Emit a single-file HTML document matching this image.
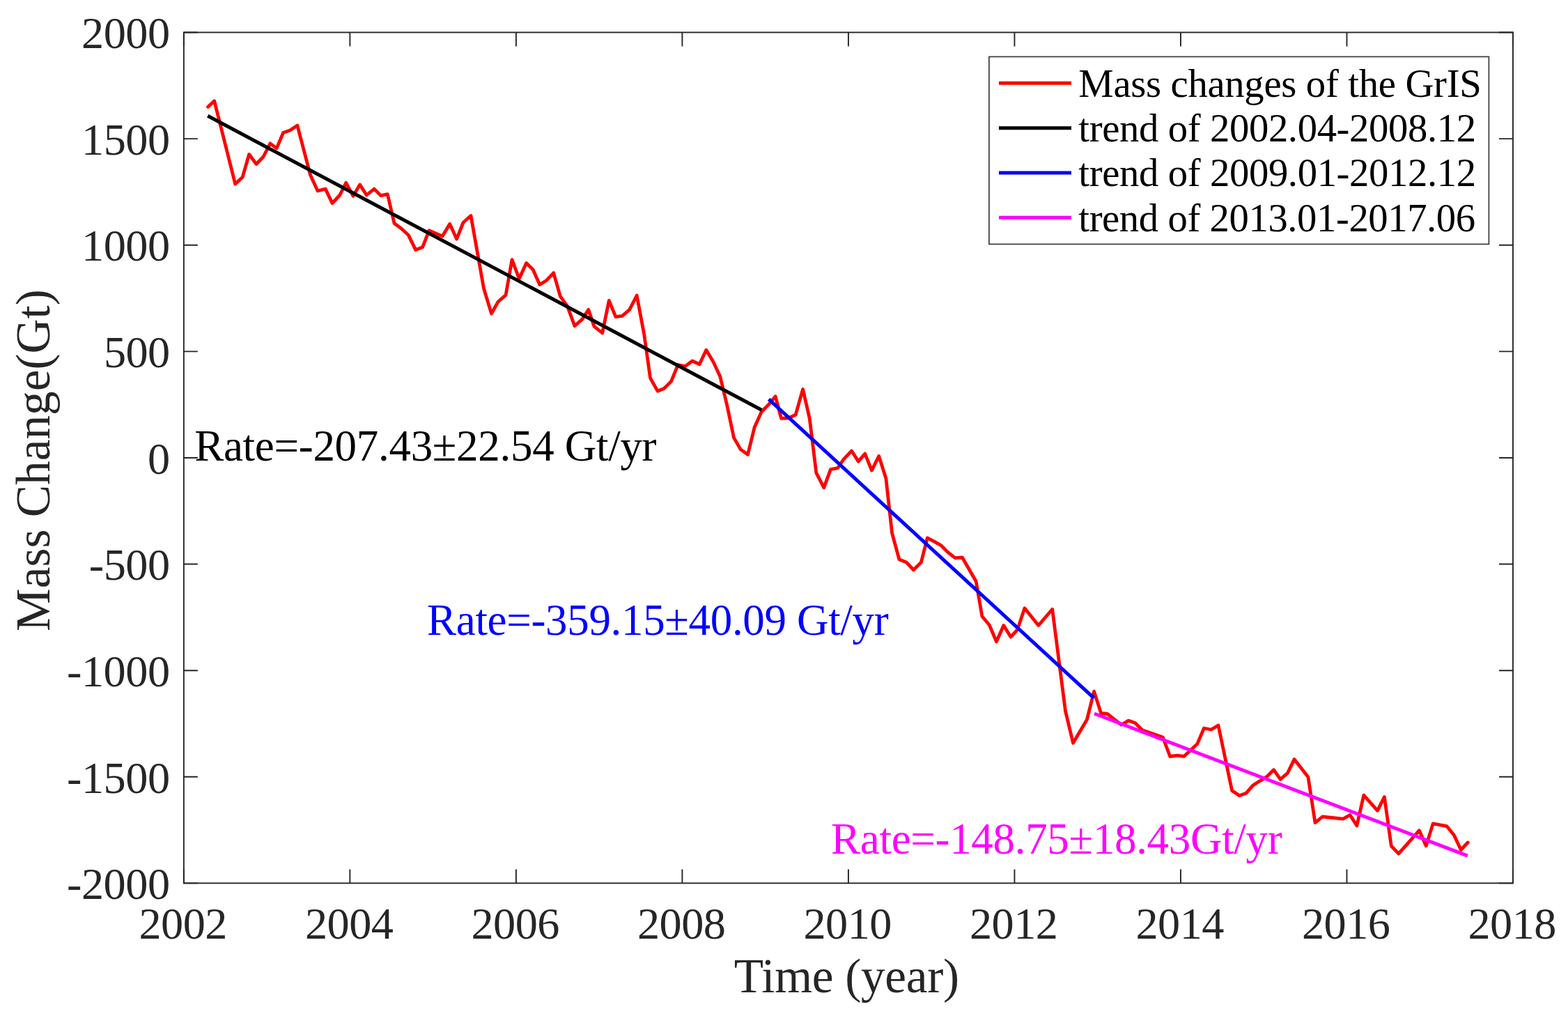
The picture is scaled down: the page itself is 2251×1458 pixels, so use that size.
<!DOCTYPE html><html><head><meta charset="utf-8"><title>Mass Change</title><style>html,body{margin:0;padding:0;background:#fff;}svg{display:block;}</style></head><body>
<svg width="2251" height="1458" viewBox="0 0 2251 1458" font-family="'Liberation Serif','Times New Roman',serif">
<rect x="0" y="0" width="2251" height="1458" fill="#fff"/>
<polyline points="298.5,153.4 307.7,144.8 337.7,264.1 348.2,254.2 357.6,221.5 368.0,235.5 378.0,225.0 387.9,205.8 397.2,212.8 406.5,190.6 416.4,187.1 426.9,180.1 445.6,251.3 456.1,274.0 467.2,271.1 477.0,291.6 487.8,280.0 496.7,262.2 507.0,281.4 516.6,264.9 526.2,280.0 537.2,271.1 546.8,280.7 556.4,278.7 566.0,320.5 577.0,328.7 586.4,337.6 596.7,358.6 606.6,354.8 615.9,330.8 625.7,334.9 635.1,339.0 645.7,321.2 655.6,343.1 664.9,319.5 676.0,309.5 694.5,414.0 705.5,450.1 715.1,433.0 726.1,423.4 735.0,372.6 745.3,400.0 755.6,377.4 765.2,387.0 774.8,408.5 784.4,402.5 794.7,391.6 804.3,425.2 814.6,439.6 824.9,467.7 835.8,458.1 844.8,444.4 853.0,468.4 864.7,478.0 874.3,431.3 883.9,454.7 893.5,453.3 903.7,444.4 914.2,424.0 924.8,480.5 933.5,542.4 944.0,561.2 953.4,557.4 963.5,547.4 973.3,523.5 983.6,525.6 993.9,518.0 1004.2,522.8 1013.8,502.2 1024.1,519.4 1033.7,540.0 1043.3,579.7 1053.6,628.4 1063.2,644.9 1073.5,652.4 1083.1,613.3 1093.3,590.7 1103.6,580.4 1113.2,568.8 1121.5,600.3 1131.9,600.0 1142.2,595.2 1152.6,558.5 1162.2,600.4 1171.8,678.5 1182.8,699.8 1192.4,673.7 1202.7,671.7 1210.9,659.3 1222.6,647.0 1232.2,662.1 1241.8,651.1 1251.4,675.1 1261.7,654.5 1271.9,686.5 1280.6,765.0 1290.9,802.8 1301.2,806.9 1311.4,817.9 1322.4,806.9 1331.3,771.9 1341.6,777.4 1351.2,782.9 1361.5,793.2 1371.1,800.7 1381.4,800.0 1401.2,834.3 1409.9,884.5 1420.2,896.8 1430.5,920.8 1440.8,897.5 1451.0,914.0 1460.6,903.7 1470.9,872.8 1490.8,897.5 1510.7,874.2 1529.5,1020.4 1540.5,1066.3 1560.4,1032.7 1570.6,992.2 1580.6,1023.4 1589.8,1024.5 1609.7,1040.2 1620.0,1034.1 1629.6,1037.5 1639.9,1047.8 1669.4,1058.1 1679.7,1085.5 1690.0,1084.1 1699.6,1085.4 1718.8,1067.6 1728.4,1045.0 1738.7,1047.0 1749.0,1040.9 1768.6,1134.4 1779.2,1141.7 1788.8,1138.3 1798.4,1127.3 1808.0,1121.1 1818.3,1114.9 1828.5,1104.7 1838.1,1118.4 1848.4,1109.5 1858.0,1089.6 1877.9,1114.9 1888.0,1180.6 1898.5,1172.0 1928.1,1175.1 1938.0,1169.5 1947.9,1184.9 1957.8,1141.1 1977.5,1163.3 1987.4,1143.6 1997.3,1214.0 2007.8,1225.1 2037.4,1191.7 2047.3,1213.9 2057.2,1181.9 2076.9,1185.6 2087.4,1198.5 2097.3,1219.5 2107.2,1209.0" fill="none" stroke="#ff0000" stroke-width="4.8" stroke-linejoin="round" stroke-linecap="round"/>
<line x1="298.2" y1="166.2" x2="1093.2" y2="588.3" stroke="#000000" stroke-width="5"/>
<line x1="1103.6" y1="572.9" x2="1570.3" y2="1001.6" stroke="#0000ff" stroke-width="5"/>
<line x1="1570.9" y1="1024.0" x2="2106.9" y2="1228.2" stroke="#ff00ff" stroke-width="5"/>
<rect x="263.85" y="46.5" width="1908.15" height="1220.9" fill="none" stroke="#262626" stroke-width="1.9"/>
<path d="M263.85,1267.4V1247.4M263.85,46.5V66.5M502.37,1267.4V1247.4M502.37,46.5V66.5M740.89,1267.4V1247.4M740.89,46.5V66.5M979.41,1267.4V1247.4M979.41,46.5V66.5M1217.93,1267.4V1247.4M1217.93,46.5V66.5M1456.44,1267.4V1247.4M1456.44,46.5V66.5M1694.96,1267.4V1247.4M1694.96,46.5V66.5M1933.48,1267.4V1247.4M1933.48,46.5V66.5M2172.00,1267.4V1247.4M2172.00,46.5V66.5M263.85,46.50H283.85M2172.0,46.50H2152.0M263.85,199.11H283.85M2172.0,199.11H2152.0M263.85,351.73H283.85M2172.0,351.73H2152.0M263.85,504.34H283.85M2172.0,504.34H2152.0M263.85,656.95H283.85M2172.0,656.95H2152.0M263.85,809.56H283.85M2172.0,809.56H2152.0M263.85,962.18H283.85M2172.0,962.18H2152.0M263.85,1114.79H283.85M2172.0,1114.79H2152.0M263.85,1267.40H283.85M2172.0,1267.40H2152.0" stroke="#262626" stroke-width="1.9" fill="none"/>
<g fill="#262626" font-size="64.3">
<text x="262.9" y="1346.6" text-anchor="middle" textLength="127.0" lengthAdjust="spacing">2002</text>
<text x="501.4" y="1346.6" text-anchor="middle" textLength="127.0" lengthAdjust="spacing">2004</text>
<text x="739.9" y="1346.6" text-anchor="middle" textLength="127.0" lengthAdjust="spacing">2006</text>
<text x="978.4" y="1346.6" text-anchor="middle" textLength="127.0" lengthAdjust="spacing">2008</text>
<text x="1216.9" y="1346.6" text-anchor="middle" textLength="127.0" lengthAdjust="spacing">2010</text>
<text x="1455.4" y="1346.6" text-anchor="middle" textLength="127.0" lengthAdjust="spacing">2012</text>
<text x="1694.0" y="1346.6" text-anchor="middle" textLength="127.0" lengthAdjust="spacing">2014</text>
<text x="1932.5" y="1346.6" text-anchor="middle" textLength="127.0" lengthAdjust="spacing">2016</text>
<text x="2171.0" y="1346.6" text-anchor="middle" textLength="127.0" lengthAdjust="spacing">2018</text>
<text x="244.1" y="69.2" text-anchor="end" textLength="127.0" lengthAdjust="spacing">2000</text>
<text x="244.1" y="221.8" text-anchor="end" textLength="127.0" lengthAdjust="spacing">1500</text>
<text x="244.1" y="374.4" text-anchor="end" textLength="127.0" lengthAdjust="spacing">1000</text>
<text x="244.1" y="527.0" text-anchor="end" textLength="95.2" lengthAdjust="spacing">500</text>
<text x="244.1" y="679.7" text-anchor="end" textLength="31.8" lengthAdjust="spacing">0</text>
<text x="244.1" y="832.3" text-anchor="end" textLength="116.4" lengthAdjust="spacing">-500</text>
<text x="244.1" y="984.9" text-anchor="end" textLength="148.1" lengthAdjust="spacing">-1000</text>
<text x="244.1" y="1137.5" text-anchor="end" textLength="148.1" lengthAdjust="spacing">-1500</text>
<text x="244.1" y="1290.1" text-anchor="end" textLength="148.1" lengthAdjust="spacing">-2000</text>
</g>
<text x="1053.8" y="1424" font-size="69.3" fill="#262626" textLength="323.2" lengthAdjust="spacing">Time (year)</text>
<text transform="translate(70.9,660.5) rotate(-90)" x="0" y="0" text-anchor="middle" font-size="69.3" fill="#262626">Mass Change(Gt)</text>
<text x="279.2" y="660.8" font-size="63.0" fill="#000" textLength="663.4" lengthAdjust="spacing">Rate=-207.43±22.54 Gt/yr</text>
<text x="613.1" y="911.0" font-size="63.0" fill="#0000ff" textLength="662.6" lengthAdjust="spacing">Rate=-359.15±40.09 Gt/yr</text>
<text x="1193.1" y="1224.9" font-size="63.0" fill="#ff00ff" textLength="647.6" lengthAdjust="spacing">Rate=-148.75±18.43Gt/yr</text>
<rect x="1419.9" y="81.4" width="717.5" height="269.0" fill="#fff" stroke="#3a3a3a" stroke-width="1.7"/>
<line x1="1434" y1="119.30" x2="1538" y2="119.30" stroke="#ff0000" stroke-width="5"/>
<text x="1548.3" y="138.60" font-size="56.7" fill="#000" textLength="578.5" lengthAdjust="spacing">Mass changes of the GrIS</text>
<line x1="1434" y1="183.65" x2="1538" y2="183.65" stroke="#000000" stroke-width="5"/>
<text x="1548.3" y="202.95" font-size="56.7" fill="#000" textLength="570.8" lengthAdjust="spacing">trend of 2002.04-2008.12</text>
<line x1="1434" y1="248.00" x2="1538" y2="248.00" stroke="#0000ff" stroke-width="5"/>
<text x="1548.3" y="267.30" font-size="56.7" fill="#000" textLength="570.8" lengthAdjust="spacing">trend of 2009.01-2012.12</text>
<line x1="1434" y1="312.35" x2="1538" y2="312.35" stroke="#ff00ff" stroke-width="5"/>
<text x="1548.3" y="331.65" font-size="56.7" fill="#000" textLength="569.8" lengthAdjust="spacing">trend of 2013.01-2017.06</text>
</svg></body></html>
